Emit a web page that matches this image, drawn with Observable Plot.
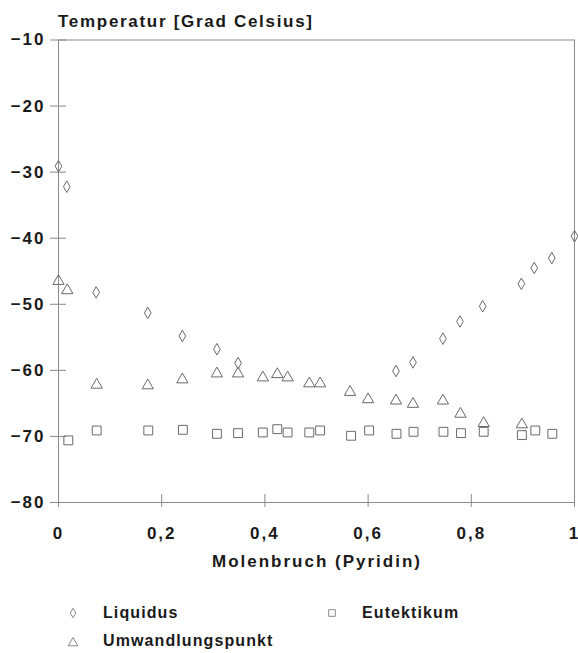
<!DOCTYPE html>
<html>
<head>
<meta charset="utf-8">
<script src="https://cdn.jsdelivr.net/npm/d3@7"></script>
<script src="https://cdn.jsdelivr.net/npm/@observablehq/plot@0.6"></script>
<style>
  body { margin: 0; background: #fff; }
  #wrap { position: relative; width: 578px; height: 653px; font-family: "Liberation Sans", Arial, sans-serif; color: #111; }
  #chart, #overlay { position: absolute; left: 0; top: 0; }
  #chart svg text { letter-spacing: 2px; font-weight: bold; }
  #overlay { pointer-events: none; }
</style>
</head>
<body>
<div id="wrap">
  <div id="chart"></div>
  <svg id="overlay" width="578" height="653"></svg>
</div>
<script>
// ---- data ----
const liquidusX = [0, 0.016, 0.073, 0.173, 0.240, 0.307, 0.348, 0.654, 0.687, 0.745, 0.778, 0.822, 0.897, 0.922, 0.956, 1.0];
const liquidusT = [-29.1, -32.2, -48.2, -51.3, -54.8, -56.8, -58.9, -60.1, -58.8, -55.2, -52.6, -50.3, -46.9, -44.5, -43.0, -39.7];

const umwandlungX = [0, 0.017, 0.074, 0.173, 0.240, 0.307, 0.348, 0.396, 0.424, 0.444, 0.486, 0.507, 0.565, 0.600, 0.654, 0.687, 0.745, 0.779, 0.824, 0.898];
const umwandlungT = [-46.5, -47.9, -62.2, -62.3, -61.4, -60.5, -60.5, -61.1, -60.6, -61.1, -62.0, -62.0, -63.3, -64.4, -64.6, -65.1, -64.6, -66.6, -68.0, -68.2];

const eutektikumX = [0.019, 0.074, 0.174, 0.241, 0.307, 0.348, 0.396, 0.424, 0.444, 0.486, 0.507, 0.567, 0.602, 0.655, 0.688, 0.746, 0.780, 0.824, 0.898, 0.924, 0.957];
const eutektikumT = [-70.6, -69.1, -69.1, -69.0, -69.6, -69.5, -69.4, -68.9, -69.4, -69.4, -69.1, -69.9, -69.1, -69.6, -69.3, -69.3, -69.5, -69.3, -69.8, -69.1, -69.6];

const xTicks = [0, 0.2, 0.4, 0.6, 0.8, 1];
const xTickLabels = ["0", "0,2", "0,4", "0,6", "0,8", "1"];
const yTicks = [-10, -20, -30, -40, -50, -60, -70, -80];
const yTickLabels = ["\u221210", "\u221220", "\u221230", "\u221240", "\u221250", "\u221260", "\u221270", "\u221280"];

const seriesNames = ["Liquidus", "Umwandlungspunkt", "Eutektikum"];
const yTitle = "Temperatur [Grad Celsius]";
const xTitle = "Molenbruch (Pyridin)";

// ---- tables built from the arrays ----
const liquidus = liquidusX.map((x, i) => ({x, t: liquidusT[i]}));
const umwandlung = umwandlungX.map((x, i) => ({x, t: umwandlungT[i]}));
const eutektikum = eutektikumX.map((x, i) => ({x, t: eutektikumT[i]}));

const symStroke = "#6a6a6a";
const axisStroke = "#8a8a8a";

const chart = Plot.plot({
  width: 578,
  height: 653,
  marginLeft: 58,
  marginRight: 4,
  marginTop: 39.5,
  marginBottom: 151,
  style: {fontFamily: '"Liberation Sans", Arial, sans-serif', fontSize: "17px", color: "#1a1a1a", background: "transparent"},
  x: {domain: [0, 1], label: null},
  y: {domain: [-80, -10], label: null},
  marks: [
    Plot.frame({stroke: axisStroke}),
    Plot.axisY(yTicks, {tickSize: 16, dx: 8, tickFormat: () => "", stroke: axisStroke, label: null}),
    Plot.axisY(yTicks, {tickSize: 0, tickPadding: 13, tickFormat: d => yTickLabels[yTicks.indexOf(d)], label: null}),
    Plot.axisX(xTicks, {tickSize: 13, dy: -8, tickFormat: () => "", stroke: axisStroke, label: null}),
    Plot.axisX(xTicks, {tickSize: 0, tickPadding: 24, tickFormat: d => xTickLabels[xTicks.indexOf(d)], label: null}),
    Plot.dot(eutektikum, {x: "x", y: "t", symbol: "square", r: 5.0, stroke: symStroke, strokeWidth: 1, fill: "none"}),
    Plot.dot(umwandlung, {x: "x", y: "t", symbol: "triangle", r: 4.2, stroke: symStroke, strokeWidth: 1, fill: "none"}),
    Plot.dot(liquidus, {x: "x", y: "t", symbol: "diamond", r: 3.5, stroke: symStroke, strokeWidth: 1, fill: "none"})
  ]
});
document.getElementById("chart").appendChild(chart);

// ---- titles and legend ----
const ov = d3.select("#overlay");
const font = '"Liberation Sans", Arial, sans-serif';
ov.append("text").attr("x", 58).attr("y", 27).text(yTitle)
  .attr("font-family", font).attr("font-size", 17).attr("font-weight", "bold").attr("letter-spacing", 1.7).attr("fill", "#1a1a1a");
ov.append("text").attr("x", 317).attr("y", 567).attr("text-anchor", "middle").text(xTitle)
  .attr("font-family", font).attr("font-size", 17).attr("font-weight", "bold").attr("letter-spacing", 2.0).attr("fill", "#1a1a1a");

const legendItems = [
  {name: seriesNames[0], sym: d3.symbolDiamond, size: 26, sx: 73, sy: 613, tx: 103, ty: 618},
  {name: seriesNames[2], sym: d3.symbolSquare, size: 44, sx: 332, sy: 613, tx: 362, ty: 618},
  {name: seriesNames[1], sym: d3.symbolTriangle, size: 40, sx: 73, sy: 643, tx: 103, ty: 646}
];
for (const it of legendItems) {
  ov.append("path").attr("d", d3.symbol(it.sym, it.size)())
    .attr("transform", `translate(${it.sx},${it.sy})`)
    .attr("fill", "none").attr("stroke", "#8a8a8a").attr("stroke-width", 1);
  ov.append("text").attr("x", it.tx).attr("y", it.ty).text(it.name)
    .attr("font-family", font).attr("font-size", 16).attr("font-weight", "bold").attr("letter-spacing", 1.1).attr("fill", "#1a1a1a");
}
</script>
</body>
</html>
